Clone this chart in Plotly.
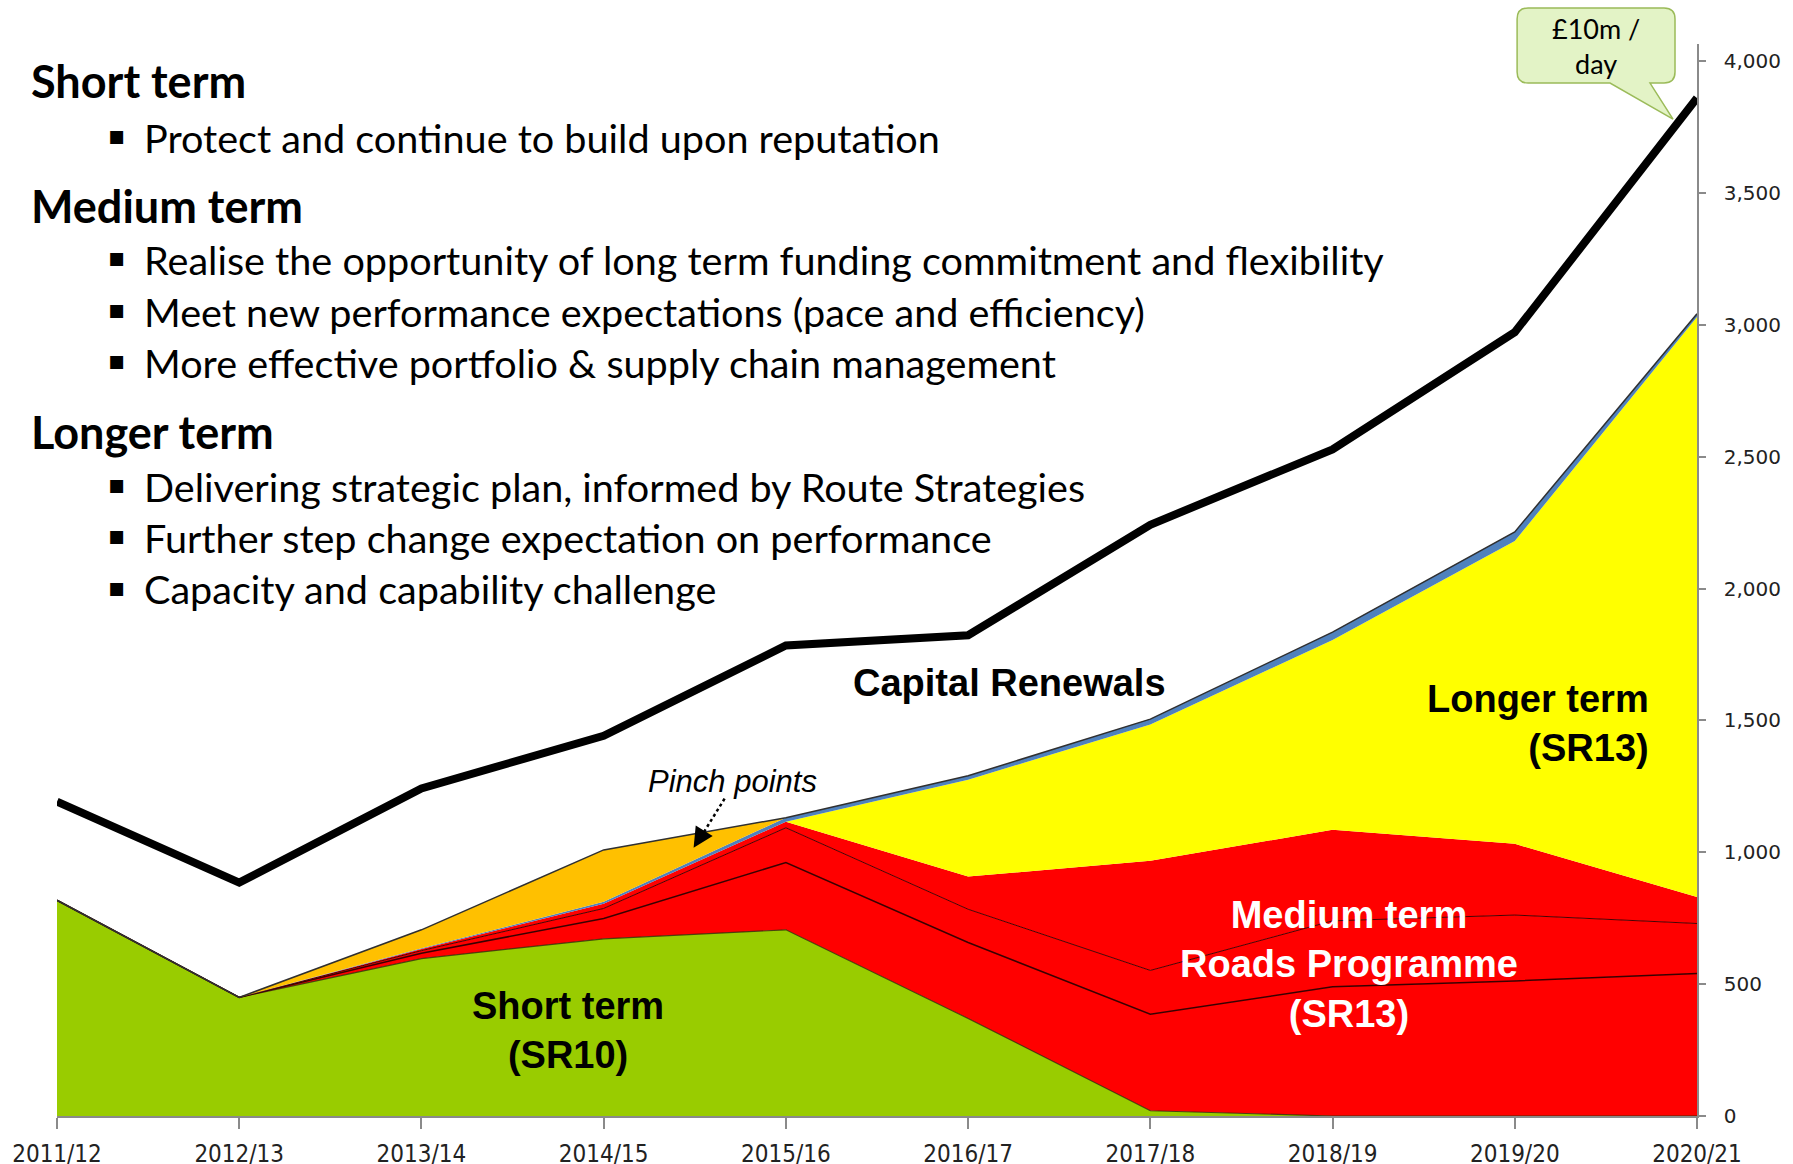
import plotly.graph_objects as go

# ---------------- data ----------------
years = ['2011/12', '2012/13', '2013/14', '2014/15', '2015/16',
         '2016/17', '2017/18', '2018/19', '2019/20', '2020/21']
short_term_sr10 = [818, 450, 597, 672, 706, 370, 20, 0, 0, 0]
medium_a = [0, 0, 20, 77, 255, 288, 366, 490, 512, 540]
medium_b = [0, 0, 10, 38, 132, 126, 166, 250, 250, 190]
medium_c = [0, 0, 6, 18, 23, 124, 416, 345, 270, 100]
longer_sr13 = [0, 0, 0, 0, 0, 367, 517, 720, 1148, 2200]
other_blue = [0, 0, 3, 7, 15, 15, 20, 30, 35, 12]
pinch_points = [0, 0, 70, 197, 0, 0, 0, 0, 0, 0]
total_spend = [1192, 885, 1242, 1442, 1784, 1823, 2242, 2528, 2972, 3860]
y_ticks = [0, 500, 1000, 1500, 2000, 2500, 3000, 3500, 4000]

# ---------------- geometry helpers (screen pixel -> paper) ----------------
W, H = 1793, 1164
KY = 1180 / 1164                  # vertical compensation for the page capture
FH = round(H * KY)
L, R, T, B = 56, 1697, 43, 1114   # plot area on screen


def px(x):
    return (x - L) / (R - L)


def py(y):
    return (B - y) / (B - T)


fig = go.Figure()

layers = [
    (short_term_sr10, '#99CC00', 'rgba(40,50,0,0.8)', 1.2),
    (medium_a, '#FF0000', '#3a0000', 1.5),
    (medium_b, '#FF0000', '#4a0000', 1.0),
    (medium_c, '#FF0000', '#FF0000', 0),
    (longer_sr13, '#FFFF00', '#FFFF00', 0),
    (other_blue, '#4F81BD', '#4F81BD', 0),
    (pinch_points, '#FFC000', '#303030', 1.5),
]
for vals, fillc, linec, lw in layers:
    fig.add_trace(go.Scatter(
        x=years, y=vals, mode='lines', stackgroup='one',
        fillcolor=fillc, line=dict(color=linec, width=lw),
        hoverinfo='skip', showlegend=False))

fig.add_trace(go.Scatter(
    x=years, y=total_spend, mode='lines',
    line=dict(color='black', width=8), showlegend=False, hoverinfo='skip'))

fig.update_layout(
    width=W, height=FH,
    margin=dict(l=L, r=W - R, t=T * KY, b=FH - B * KY),
    paper_bgcolor='white', plot_bgcolor='white',
    showlegend=False,
    xaxis=dict(type='category', range=[0, 9], showgrid=False, zeroline=False,
               showline=True, linecolor='#8a8a8a', linewidth=1.5,
               ticks='outside', ticklen=11, tickcolor='#8a8a8a', tickwidth=1.5,
               ticklabelstandoff=4,
               tickfont=dict(family='DejaVu Sans Condensed, Liberation Sans Narrow, Liberation Sans',
                             size=24, color='#222'),
               fixedrange=True),
    yaxis=dict(range=[0, 4065], side='right', showgrid=False, zeroline=False,
               showline=True, linecolor='#8a8a8a', linewidth=1.5,
               tickvals=y_ticks, tickformat=',d',
               ticks='outside', ticklen=7, tickcolor='#8a8a8a', tickwidth=1.5,
               ticklabelstandoff=14,
               tickfont=dict(family='DejaVu Sans', size=20, color='#222'),
               fixedrange=True),
)

# ---------------- left text block ----------------
head_font = dict(family='Lato', size=45, color='black')
bul_font = dict(family='Lato', size=39.6, color='black')
lines = [
    ('h', 'Short term', 80),
    ('b', 'Protect and continue to build upon reputation', 136),
    ('h', 'Medium term', 205),
    ('b', 'Realise the opportunity of long term funding commitment and flexibility', 258),
    ('b', 'Meet new performance expectations (pace and efficiency)', 310),
    ('b', 'More effective portfolio &amp; supply chain management', 361),
    ('h', 'Longer term', 431),
    ('b', 'Delivering strategic plan, informed by Route Strategies', 485),
    ('b', 'Further step change expectation on performance', 536),
    ('b', 'Capacity and capability challenge', 587),
]
for kind, txt, yy in lines:
    if kind == 'h':
        fig.add_annotation(x=px(28), y=py(yy), xref='paper', yref='paper',
                           text='<b>' + txt + '</b>', showarrow=False,
                           xanchor='left', yanchor='middle', font=head_font)
    else:
        fig.add_annotation(x=px(105), y=py(yy - 2), xref='paper', yref='paper',
                           text='▪', showarrow=False,
                           xanchor='left', yanchor='middle',
                           font=dict(family='DejaVu Sans', size=26, color='black'))
        fig.add_annotation(x=px(141), y=py(yy), xref='paper', yref='paper',
                           text=txt, showarrow=False,
                           xanchor='left', yanchor='middle', font=bul_font)

# ---------------- chart labels ----------------
lab_font = 'Liberation Sans, Arial'
LS = 38


def label(x, y, text, color='black', xanchor='center', align='center', size=LS, family=lab_font):
    fig.add_annotation(x=px(x), y=py(y), xref='paper', yref='paper',
                       text=text, showarrow=False, xanchor=xanchor, yanchor='middle',
                       align=align, font=dict(family=family, size=size, color=color))


label(1009, 681, '<b>Capital Renewals</b>')
label(1651, 722, '<b>Longer term<br>(SR13)</b>', xanchor='right', align='right')
label(1349, 963, '<b>Medium term<br>Roads Programme<br>(SR13)</b>', color='white')
label(567, 1029, '<b>Short term<br>(SR10)</b>')
label(732, 780, '<i>Pinch points</i>', size=31)

# dotted pointer for pinch points
fig.add_shape(type='line', xref='paper', yref='paper',
              x0=px(724), y0=py(797), x1=px(701), y1=py(834),
              line=dict(color='black', width=2.5, dash='dot'))
fig.add_annotation(x=px(693), y=py(846), xref='paper', yref='paper',
                   ax=10, ay=-16,
                   text='', showarrow=True, arrowhead=2, arrowsize=1.6,
                   arrowwidth=2.5, arrowcolor='black', standoff=0)

# ---------------- callout ----------------
x0, x1, y0, y1, r = 1517, 1675, 7, 82, 11


def P(x, y):
    return f'{px(x):.5f},{py(y):.5f}'


path = (f'M {P(x0 + r, y0)} L {P(x1 - r, y0)} Q {P(x1, y0)} {P(x1, y0 + r)} '
        f'L {P(x1, y1 - r)} Q {P(x1, y1)} {P(x1 - r, y1)} '
        f'L {P(1650, y1)} L {P(1673, 118)} L {P(1610, y1)} '
        f'L {P(x0 + r, y1)} Q {P(x0, y1)} {P(x0, y1 - r)} '
        f'L {P(x0, y0 + r)} Q {P(x0, y0)} {P(x0 + r, y0)} Z')
fig.add_shape(type='path', xref='paper', yref='paper', path=path,
              fillcolor='#E3F3C6', line=dict(color='#9BBB59', width=1.5))
label(1596, 45, '£10m /<br>day', size=27, family='Lato')

page_js = (
    "var d=document.documentElement,b=document.body;"
    "[d,b].forEach(function(e){e.style.margin='0';e.style.padding='0';"
    "e.style.overflow='hidden';});"
)
fig.write_html('out.html', config={'displayModeBar': False}, post_script=page_js)
